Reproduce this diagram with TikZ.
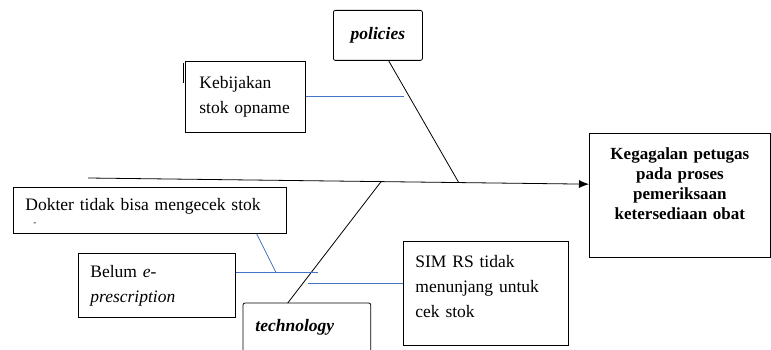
\documentclass[tikz,border=0pt]{standalone}
\usepackage{fontspec}
\setmainfont{Liberation Serif}
\usetikzlibrary{calc,arrows.meta}
\definecolor{twigblue}{RGB}{68,114,196}

\begin{document}
\begin{tikzpicture}[x=1pt, y=-1pt, >={Latex[length=10pt,width=8pt]}, font=\fontsize{17.5}{25}\selectfont,
		box/.style={draw, anchor=north west, align=left, inner xsep=12pt, inner ysep=0pt, line width=0.8pt},
		bone/.style={line width=0.8pt},
		twig/.style={twigblue, line width=0.8pt}]
	\useasboundingbox (0,0) rectangle (771,350);
	% effect (head)
	\node[box, minimum width=181pt, minimum height=124pt, text width=170pt, inner xsep=5.5pt, align=center,
		font=\fontsize{17}{20}\selectfont\bfseries, text depth=84pt] (effect) at (589,133)
		{Kegagalan petugas\\pada proses\\pemeriksaan\\ketersediaan obat};
	% categories
	\node[box, minimum width=89pt, minimum height=50pt, text width=65pt, rounded corners=2pt, align=center] (pol) at (333,10) {\textbf{\textit{policies}}};
	\node[box, draw=none, minimum width=127pt, minimum height=47pt, text width=103pt] (tech) at (243,303) {\textbf{\textit{technology}}};
	\draw[line width=0.8pt, rounded corners=2pt] (tech.south west) -- (tech.north west) -- (tech.north east) -- (tech.south east);
	% causes
	\node[box, minimum width=120pt, minimum height=71pt, text width=92pt, inner xsep=14pt] (keb) at (185,61) {Kebijakan\\stok opname};
	\node[box, minimum width=273pt, minimum height=46pt, text width=249pt, text depth=12pt] (dok) at (13,187)
		{Dokter tidak bisa mengecek stok\\[-10pt]\hspace*{8pt}{\fontsize{9}{9}\selectfont -}};
	\node[box, minimum width=157pt, minimum height=64pt, text width=133pt] (belum) at (78,253) {Belum \textit{e-}\\\textit{prescription}};
	\node[box, minimum width=165pt, minimum height=104pt, text width=141pt, text depth=64pt] (sim) at (403,241) {SIM RS tidak\\menunjang untuk\\cek stok};
	\draw[line width=0.8pt] ($(keb.north west)+(-2,2)$) -- ++(0,20);
	% spine and bones
	\coordinate (tail) at (88,178);
	\coordinate (head) at ($(effect.north west)!0.41!(effect.south west)$);
	\draw[bone, ->] (tail) -- (head);
	\coordinate (pj) at ($(tail)!0.74!(head)$);
	\coordinate (tj) at ($(tail)!0.585!(head)$);
	\draw[bone] ($(pol.south west)!0.62!(pol.south east)$) coordinate (ps) -- (pj);
	\draw[bone] ($(tech.north west)!0.35!(tech.north east)$) coordinate (ts) -- (tj);
	% twigs
	\coordinate (pk) at ($(ps)!0.22!(pj)$);
	\draw[twig] (keb.east) -- (keb.east -| pk);
	\coordinate (bj) at ($(belum.north east)!0.3!(belum.south east)$);
	\draw[twig] (bj) -- ++(82,0) coordinate (bk);
	\draw[twig] ($(dok.south west)!0.89!(dok.south east)$) -- ($(bj)!0.49!(bk)$);
	\coordinate (sj) at ($(sim.north west)!0.4!(sim.south west)$);
	\coordinate (tk) at ($(ts)!0.17!(tj)$);
	\draw[twig] (sj) -- ($(sj -| tk)+(4,0)$);
\end{tikzpicture}
\end{document}
